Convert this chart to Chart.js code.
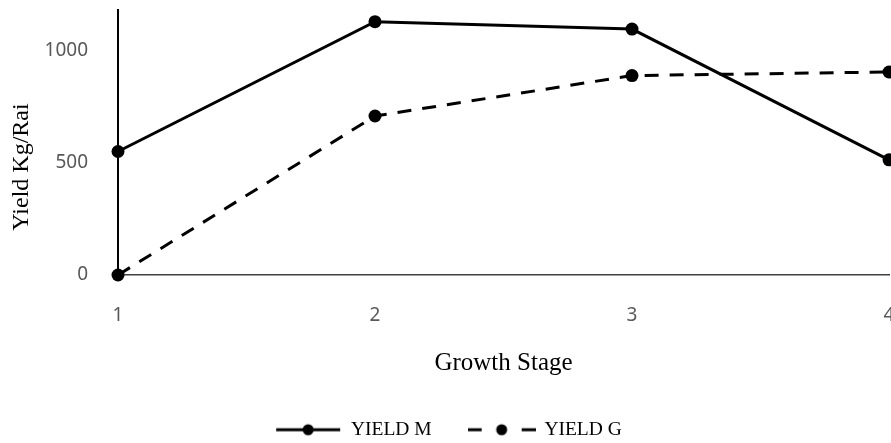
<!DOCTYPE html>
<html>
<head>
<meta charset="utf-8">
<script src="https://cdn.jsdelivr.net/npm/chart.js@4"></script>
<style>
    body { margin: 0; background: #fff; }
    #wrap { width: 891px; height: 443px; }
</style>
</head>
<body>
<div id="wrap"><canvas id="myChart"></canvas></div>
<script>
const stages = ['1', '2', '3', '4'];
const yieldM = [550, 1128, 1095, 513];
const yieldG = [0, 708, 888, 904];
const yTicks = [0, 500, 1000];

// legend marker: line + dot drawn on a small canvas
function legendMarker(dashed) {
    const c = document.createElement('canvas');
    c.width = 68;
    c.height = 14;
    const g = c.getContext('2d');
    g.strokeStyle = '#000';
    g.lineWidth = 3;
    g.beginPath();
    if (dashed) {
        g.moveTo(0, 7); g.lineTo(14, 7);
        g.moveTo(54, 7); g.lineTo(68, 7);
    } else {
        g.moveTo(2, 7); g.lineTo(66, 7);
    }
    g.stroke();
    g.fillStyle = '#000';
    g.beginPath();
    g.arc(34, 7, 5.5, 0, Math.PI * 2);
    g.fill();
    return c;
}
const markers = [legendMarker(false), legendMarker(true)];

const noPadding = () => ({ left: 0, top: 0, right: 0, bottom: 0 });

const yTitle = {
    id: 'yTitle',
    afterDraw(chart) {
        const ctx = chart.ctx;
        ctx.save();
        ctx.translate(22, 167);
        ctx.rotate(-Math.PI / 2);
        ctx.font = '24px "Liberation Serif"';
        ctx.fillStyle = '#000';
        ctx.textAlign = 'center';
        ctx.textBaseline = 'middle';
        ctx.fillText('Yield Kg/Rai', 0, 0);
        ctx.restore();
    }
};

const ctx = document.getElementById('myChart').getContext('2d');
const myChart = new Chart(ctx, {
    type: 'line',
    data: {
        labels: stages,
        datasets: [{
            label: 'YIELD M',
            data: yieldM,
            borderColor: '#000',
            backgroundColor: '#000',
            borderWidth: 3,
            pointRadius: 6.5,
            pointBackgroundColor: '#000',
            pointBorderWidth: 0,
            tension: 0,
            clip: false
        }, {
            label: 'YIELD G',
            data: yieldG,
            borderColor: '#000',
            backgroundColor: '#000',
            borderWidth: 3,
            borderDash: [14, 11],
            pointRadius: 6.5,
            pointBackgroundColor: '#000',
            pointBorderWidth: 0,
            tension: 0,
            clip: false
        }]
    },
    options: {
        responsive: true,
        maintainAspectRatio: false,
        animation: false,
        layout: {
            autoPadding: false,
            padding: { left: 8, right: 2, top: 10, bottom: -6.5 }
        },
        scales: {
            x: {
                offset: false,
                grid: { display: false, drawTicks: false },
                border: { color: '#404040', width: 1.5 },
                ticks: {
                    padding: 29,
                    maxRotation: 0,
                    color: '#595959',
                    font: { family: 'Noto Sans', size: 19 }
                },
                title: {
                    display: true,
                    text: 'Growth Stage',
                    color: '#000',
                    font: { family: 'Liberation Serif', size: 25 },
                    padding: { top: 0, bottom: 5 }
                },
                afterFit: function(scale) {
                    scale.height = 108;
                    scale.paddingLeft = 0;
                    scale.paddingRight = 0;
                    scale.getPadding = noPadding;
                }
            },
            y: {
                min: 0,
                max: 1180,
                grid: { display: false, drawTicks: false },
                border: { color: '#000', width: 2 },
                afterBuildTicks: function(scale) {
                    scale.ticks = yTicks.map(v => ({ value: v }));
                },
                ticks: {
                    padding: 30,
                    color: '#595959',
                    font: { family: 'Noto Sans', size: 19 },
                    callback: v => String(v)
                },
                afterFit: function(scale) {
                    scale.width = 110;
                    scale.paddingTop = 0;
                    scale.paddingBottom = 0;
                    scale.getPadding = noPadding;
                }
            }
        },
        plugins: {
            legend: {
                position: 'bottom',
                labels: {
                    usePointStyle: true,
                    pointStyleWidth: 66,
                    padding: 37,
                    color: '#000',
                    font: { family: 'Liberation Serif', size: 19.5 },
                    generateLabels: function(chart) {
                        const items = Chart.defaults.plugins.legend.labels.generateLabels(chart);
                        items.forEach((item, i) => {
                            item.pointStyle = markers[i];
                        });
                        return items;
                    }
                }
            },
            tooltip: { enabled: false }
        }
    },
    plugins: [yTitle]
});
</script>
</body>
</html>
